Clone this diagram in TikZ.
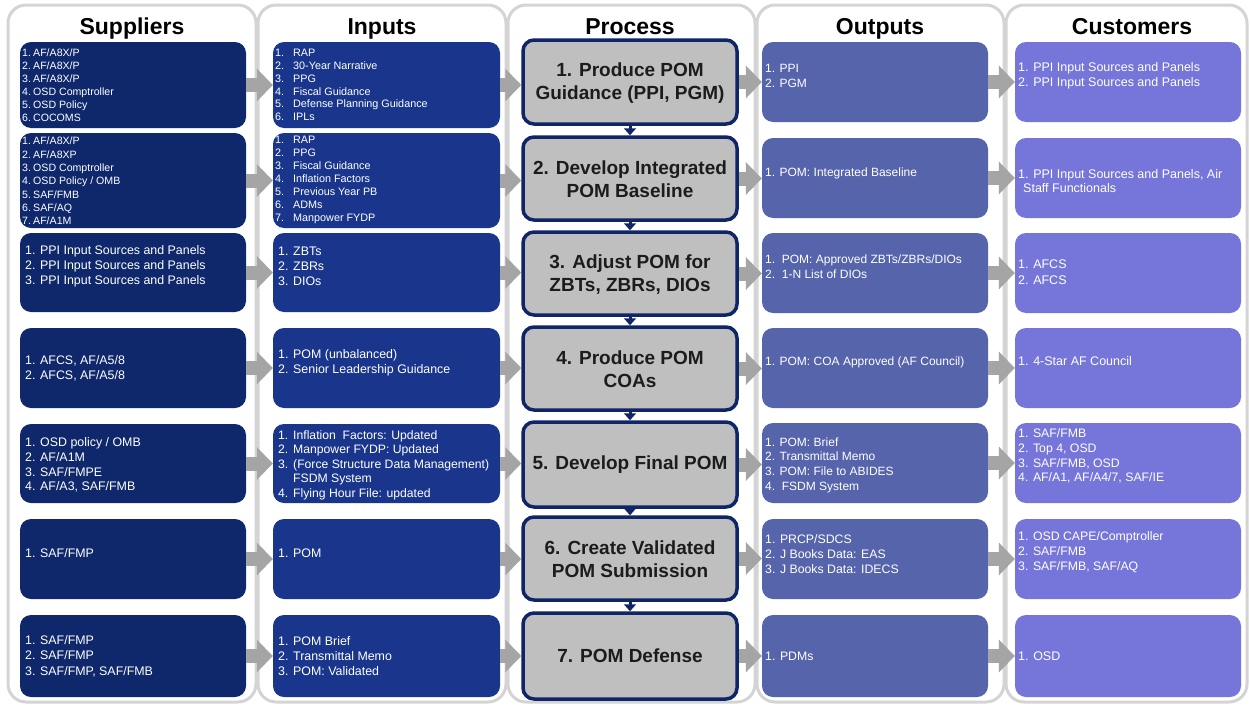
\documentclass[tikz,border=0pt]{standalone}
\usepackage{fontspec}
\setmainfont{Liberation Sans}
\usetikzlibrary{arrows.meta}

\definecolor{supblue}{RGB}{15,40,108}
\definecolor{inblue}{RGB}{25,54,140}
\definecolor{outblue}{RGB}{86,100,172}
\definecolor{custblue}{RGB}{118,118,218}
\definecolor{procgrey}{RGB}{191,191,191}
\definecolor{procedge}{RGB}{16,36,104}
\definecolor{panelgrey}{RGB}{212,212,212}
\definecolor{arrowgrey}{RGB}{165,165,165}
\definecolor{proctext}{RGB}{28,28,28}

% width reserved for the item numbers of a list
\newlength\numw
\newcommand\nb[1]{\makebox[\numw][l]{#1}}
% \mkbox{style}{name}{x1}{y1}{x2}{y2}: empty node filling the given rectangle
\newcommand\mkbox[6]{%
  \node[#1, minimum width={(#5)-(#3)}, minimum height={(#6)-(#4)}]
    (#2) at ({((#3)+(#5))/2},{((#4)+(#6))/2}) {};}

\begin{document}
\begin{tikzpicture}[x=1pt,y=-1pt,
  panel/.style={draw=panelgrey, line width=3pt, fill=white, rounded corners=18pt, inner sep=0pt},
  sidebox/.style={draw=none, rounded corners=11pt, inner sep=0pt},
  supbox/.style={sidebox, fill=supblue},
  inbox/.style={sidebox, fill=inblue},
  outbox/.style={sidebox, fill=outblue},
  custbox/.style={sidebox, fill=custblue},
  procbox/.style={draw=procedge, line width=3.5pt, fill=procgrey, rounded corners=11pt, inner sep=0pt},
  head/.style={anchor=base, inner sep=0pt, font={\fontsize{23}{27}\selectfont\bfseries}},
  f/.style 2 args={font={\fontsize{#1}{#2}\selectfont}},
  nw/.style={execute at begin node={\setlength\numw{#1pt}}},
  txt/.style={anchor=west, inner sep=0pt, align=left, text=white},
  ptxt/.style={inner sep=0pt, align=center, text=proctext,
    font={\fontsize{19}{23}\selectfont\bfseries}},
  flowarrow/.style={draw=arrowgrey, line width=14pt, -{Triangle[width=32pt,length=16pt]}},
  downarrow/.style={draw=procedge, line width=3pt, -{Triangle[width=12pt,length=7pt]}}
]
\useasboundingbox (0,0) rectangle (1250,704);

% column panels
\mkbox{panel}{panS}{8}{5}{256}{702}
\mkbox{panel}{panI}{258}{5}{506}{702}
\mkbox{panel}{panP}{508}{5}{755}{702}
\mkbox{panel}{panO}{757}{5}{1004}{702}
\mkbox{panel}{panC}{1006}{5}{1247}{702}

% column headings
\node[head] (hS) at (132,34) {Suppliers};
\node[head] (hI) at (382,34) {Inputs};
\node[head] (hP) at (630,34) {Process};
\node[head] (hO) at (880,34) {Outputs};
\node[head] (hC) at (1132,34) {Customers};

% suppliers
\mkbox{supbox}{s1}{20}{42}{246}{128}
\mkbox{supbox}{s2}{20}{133}{246}{228}
\mkbox{supbox}{s3}{20}{233}{246}{312}
\mkbox{supbox}{s4}{20}{328}{246}{408}
\mkbox{supbox}{s5}{20}{424}{246}{503}
\mkbox{supbox}{s6}{20}{519}{246}{599}
\mkbox{supbox}{s7}{20}{615}{246}{697}

% inputs
\mkbox{inbox}{i1}{273}{42}{500}{128}
\mkbox{inbox}{i2}{273}{133}{500}{228}
\mkbox{inbox}{i3}{273}{233}{500}{312}
\mkbox{inbox}{i4}{273}{328}{500}{408}
\mkbox{inbox}{i5}{273}{424}{500}{503}
\mkbox{inbox}{i6}{273}{519}{500}{599}
\mkbox{inbox}{i7}{273}{615}{500}{697}

% process steps
\mkbox{procbox}{p1}{523}{40}{737}{124}
\mkbox{procbox}{p2}{523}{137}{737}{220}
\mkbox{procbox}{p3}{523}{232}{737}{315}
\mkbox{procbox}{p4}{523}{327}{737}{410}
\mkbox{procbox}{p5}{523}{422}{737}{507}
\mkbox{procbox}{p6}{523}{517}{737}{600}
\mkbox{procbox}{p7}{523}{613}{737}{699}

% outputs
\mkbox{outbox}{o1}{762}{42}{988}{122}
\mkbox{outbox}{o2}{762}{138}{988}{218}
\mkbox{outbox}{o3}{762}{233}{988}{313}
\mkbox{outbox}{o4}{762}{328}{988}{408}
\mkbox{outbox}{o5}{762}{423}{988}{503}
\mkbox{outbox}{o6}{762}{519}{988}{599}
\mkbox{outbox}{o7}{762}{615}{988}{697}

% customers
\mkbox{custbox}{c1}{1015}{42}{1241}{122}
\mkbox{custbox}{c2}{1015}{138}{1241}{218}
\mkbox{custbox}{c3}{1015}{233}{1241}{313}
\mkbox{custbox}{c4}{1015}{328}{1241}{408}
\mkbox{custbox}{c5}{1015}{423}{1241}{503}
\mkbox{custbox}{c6}{1015}{519}{1241}{599}
\mkbox{custbox}{c7}{1015}{615}{1241}{697}

% flow arrows between the columns
\foreach \r in {1,...,7} {
  \draw[flowarrow] (s\r.east) -- (s\r.east -| i\r.west);
  \draw[flowarrow] (i\r.east) -- (i\r.east -| p\r.west);
  \draw[flowarrow] (p\r.east) -- (p\r.east -| o\r.west);
  \draw[flowarrow] (o\r.east) -- (o\r.east -| c\r.west);
}
% sequence of the process steps
\foreach \a/\b in {1/2,2/3,3/4,4/5,5/6,6/7}
  \draw[downarrow] (p\a.south) -- (p\b.north);

% supplier texts
\node[txt,f={10.6}{13},nw=11] (s1t) at (22,85)
  {\nb{1.}AF/A8X/P\\\nb{2.}AF/A8X/P\\\nb{3.}AF/A8X/P\\\nb{4.}OSD Comptroller\\\nb{5.}OSD Policy\\\nb{6.}COCOMS};
\node[txt,f={10.6}{13.3},nw=11] (s2t) at (22,181)
  {\nb{1.}AF/A8X/P\\\nb{2.}AF/A8XP\\\nb{3.}OSD Comptroller\\\nb{4.}OSD Policy / OMB\\\nb{5.}SAF/FMB\\\nb{6.}SAF/AQ\\\nb{7.}AF/A1M};
\node[txt,f={12.4}{15},nw=15] (s3t) at (25,266.5)
  {\nb{1.}PPI Input Sources and Panels\\\nb{2.}PPI Input Sources and Panels\\\nb{3.}PPI Input Sources and Panels};
\node[txt,f={12.4}{15},nw=15] (s4t) at (25,368.5)
  {\nb{1.}AFCS, AF/A5/8\\\nb{2.}AFCS, AF/A5/8};
\node[txt,f={12.4}{14.6},nw=15] (s5t) at (25,465)
  {\nb{1.}OSD policy / OMB\\\nb{2.}AF/A1M\\\nb{3.}SAF/FMPE\\\nb{4.}AF/A3, SAF/FMB};
\node[txt,f={12.4}{15},nw=15] (s6t) at (25,553)
  {\nb{1.}SAF/FMP};
\node[txt,f={12.4}{15.5},nw=15] (s7t) at (25,656)
  {\nb{1.}SAF/FMP\\\nb{2.}SAF/FMP\\\nb{3.}SAF/FMP, SAF/FMB};

% input texts
\node[txt,f={10.8}{12.8},nw=18] (i1t) at (275,85)
  {\nb{1.}RAP\\\nb{2.}30-Year Narrative\\\nb{3.}PPG\\\nb{4.}Fiscal Guidance\\\nb{5.}Defense Planning Guidance\\\nb{6.}IPLs};
\node[txt,f={10.8}{13},nw=18] (i2t) at (275,180)
  {\nb{1.}RAP\\\nb{2.}PPG\\\nb{3.}Fiscal Guidance\\\nb{4.}Inflation Factors\\\nb{5.}Previous Year PB\\\nb{6.}ADMs\\\nb{7.}Manpower FYDP};
\node[txt,f={12.4}{15},nw=15] (i3t) at (278,266.5)
  {\nb{1.}ZBTs\\\nb{2.}ZBRs\\\nb{3.}DIOs};
\node[txt,f={12.4}{15},nw=15] (i4t) at (278,362.5)
  {\nb{1.}POM (unbalanced)\\\nb{2.}Senior Leadership Guidance};
\node[txt,f={12.2}{14.5},nw=15] (i5t) at (278,465)
  {\nb{1.}Inflation\ \ Factors: Updated\\\nb{2.}Manpower FYDP: Updated\\\nb{3.}(Force Structure Data Management)\\\nb{}FSDM System\\\nb{4.}Flying Hour File: updated};
\node[txt,f={12.4}{15},nw=15] (i6t) at (278,553)
  {\nb{1.}POM};
\node[txt,f={12.4}{15},nw=15] (i7t) at (278,656)
  {\nb{1.}POM Brief\\\nb{2.}Transmittal Memo\\\nb{3.}POM: Validated};

% process step texts
\node[ptxt] (p1t) at ([yshift=-1pt]p1.center) {1. Produce POM\\Guidance (PPI, PGM)};
\node[ptxt] (p2t) at ([yshift=-1pt]p2.center) {2. Develop Integrated\\POM Baseline};
\node[ptxt] (p3t) at ([yshift=-1pt]p3.center) {3. Adjust POM for\\ZBTs, ZBRs, DIOs};
\node[ptxt] (p4t) at ([yshift=-1pt]p4.center) {4. Produce POM\\COAs};
\node[ptxt] (p5t) at (p5.center) {5. Develop Final POM};
\node[ptxt] (p6t) at ([yshift=-1pt]p6.center) {6. Create Validated\\POM Submission};
\node[ptxt] (p7t) at (p7.center) {7. POM Defense};

% output texts
\node[txt,f={12}{15}] (o1t) at (765,76) {1. PPI\\2. PGM};
\node[txt,f={12}{15}] (o2t) at (765,173) {1. POM: Integrated Baseline};
\node[txt,f={12}{15}] (o3t) at (765,266.5)
  {1.\ \ POM: Approved ZBTs/ZBRs/DIOs\\2.\ \ 1-N List of DIOs};
\node[txt,f={12}{15}] (o4t) at (765,362.5) {1. POM: COA Approved (AF Council)};
\node[txt,f={12}{14.6}] (o5t) at (765,465)
  {1. POM: Brief\\2. Transmittal Memo\\3. POM: File to ABIDES\\4.\ \ FSDM System};
\node[txt,f={12.3}{14.8}] (o6t) at (765,554)
  {1. PRCP/SDCS\\2. J Books Data: EAS\\3. J Books Data: IDECS};
\node[txt,f={12.3}{15}] (o7t) at (765,656) {1. PDMs};

% customer texts
\node[txt,f={12.5}{15}] (c1t) at (1018,75.5)
  {1. PPI Input Sources and Panels\\2. PPI Input Sources and Panels};
\node[txt,f={12.5}{14.5}] (c2t) at (1018,181)
  {1. PPI Input Sources and Panels, Air\\\hspace*{5pt}Staff Functionals};
\node[txt,f={12.5}{15.5}] (c3t) at (1018,272) {1. AFCS\\2. AFCS};
\node[txt,f={12.5}{15}] (c4t) at (1018,361) {1. 4-Star AF Council};
\node[txt,f={12.3}{14.8}] (c5t) at (1018,456)
  {1. SAF/FMB\\2. Top 4, OSD\\3. SAF/FMB, OSD\\4. AF/A1, AF/A4/7, SAF/IE};
\node[txt,f={12.3}{15}] (c6t) at (1018,552)
  {1. OSD CAPE/Comptroller\\2. SAF/FMB\\3. SAF/FMB, SAF/AQ};
\node[txt,f={12.5}{15}] (c7t) at (1018,656) {1. OSD};
\end{tikzpicture}
\end{document}
